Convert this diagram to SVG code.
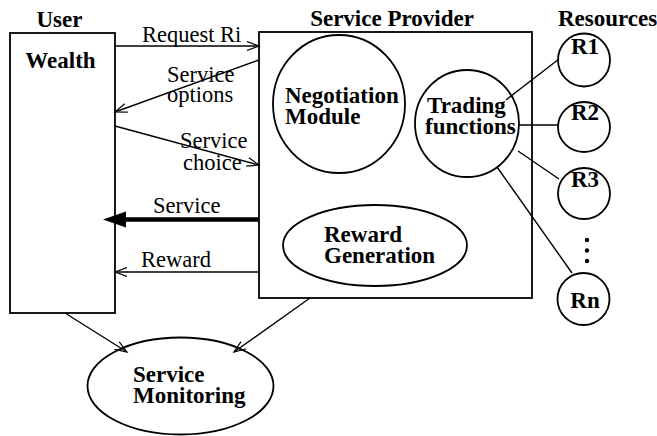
<svg xmlns="http://www.w3.org/2000/svg" width="657" height="436" viewBox="0 0 657 436">
<style>
.b{font-family:"Liberation Serif","Times New Roman",serif;font-weight:bold;font-size:23px;fill:#000}
.r{font-family:"Liberation Serif","Times New Roman",serif;font-size:22.5px;fill:#000}
.s{fill:#fff;stroke:#000;stroke-width:1.8}
.c{stroke:#000;stroke-width:1.4;fill:none}
</style>
<defs>
<marker id="a" markerUnits="userSpaceOnUse" markerWidth="14" markerHeight="12" refX="12" refY="6" orient="auto">
<path d="M0,1.5 L12,6 L0,10.5" fill="none" stroke="#000" stroke-width="1.2"/>
</marker>
</defs>
<rect width="657" height="436" fill="#fff"/>
<g id="user">
<rect class="s" x="10" y="33" width="105" height="280"/>
<text class="b" x="59.5" y="27" text-anchor="middle">User</text>
<text class="b" x="60.5" y="68" text-anchor="middle">Wealth</text>
</g>
<g id="provider">
<rect class="s" x="259" y="32" width="273" height="266"/>
<text class="b" x="392" y="26" text-anchor="middle">Service Provider</text>
</g>
<g id="negotiation">
<ellipse class="s" cx="339" cy="104" rx="66" ry="69"/>
<text class="b" x="285" y="103">Negotiation</text>
<text class="b" x="285" y="124">Module</text>
</g>
<g id="trading">
<ellipse class="s" cx="467" cy="123.5" rx="52" ry="53.5"/>
<text class="b" x="427" y="113">Trading</text>
<text class="b" x="425" y="134">functions</text>
</g>
<g id="reward-gen">
<ellipse class="s" cx="375" cy="245.5" rx="92" ry="40.5"/>
<text class="b" x="324" y="242">Reward</text>
<text class="b" x="324" y="263">Generation</text>
</g>
<g id="monitoring">
<ellipse class="s" cx="180.5" cy="386" rx="93" ry="48.5"/>
<text class="b" x="133" y="382">Service</text>
<text class="b" x="133" y="403">Monitoring</text>
</g>
<g id="resources">
<text class="b" x="607.5" y="26" text-anchor="middle" font-size="22">Resources</text>
</g>
<g id="r1"><ellipse class="s" cx="584" cy="60" rx="26" ry="26.5"/><text class="b" x="585" y="54" text-anchor="middle">R1</text></g>
<g id="r2"><ellipse class="s" cx="584" cy="127" rx="26" ry="25"/><text class="b" x="585" y="120" text-anchor="middle">R2</text></g>
<g id="r3"><ellipse class="s" cx="584" cy="193.5" rx="26" ry="25.5"/><text class="b" x="585" y="187" text-anchor="middle">R3</text></g>
<g id="dots"><circle cx="587" cy="240" r="2.2"/><circle cx="587" cy="250.5" r="2.2"/><circle cx="587" cy="261" r="2.2"/></g>
<g id="rn"><ellipse class="s" cx="583.5" cy="299" rx="26" ry="26"/><text class="b" x="585" y="308" text-anchor="middle">Rn</text></g>
<g id="connectors">
<line class="c" x1="115" y1="46" x2="259" y2="46" marker-end="url(#a)"/>
<line class="c" x1="259" y1="60" x2="115" y2="112" marker-end="url(#a)"/>
<line class="c" x1="115" y1="126" x2="259" y2="165" marker-end="url(#a)"/>
<line x1="259" y1="219.5" x2="122" y2="219.5" stroke="#000" stroke-width="4.5"/>
<polygon points="103,219.5 126,211.5 126,227.5" fill="#000"/>
<line class="c" x1="259" y1="272" x2="115" y2="272" marker-end="url(#a)"/>
<line class="c" x1="65" y1="313" x2="127" y2="352" marker-end="url(#a)"/>
<line class="c" x1="310" y1="298" x2="234" y2="352" marker-end="url(#a)"/>
<line class="c" x1="506" y1="100" x2="559" y2="59"/>
<line class="c" x1="519" y1="125" x2="558" y2="125"/>
<line class="c" x1="518" y1="151" x2="559" y2="179"/>
<line class="c" x1="497" y1="167" x2="572" y2="273"/>
</g>
<g id="labels">
<text class="r" x="142" y="42">Request Ri</text>
<text class="r" x="167" y="82">Service</text>
<text class="r" x="167" y="102">options</text>
<text class="r" x="180" y="148">Service</text>
<text class="r" x="183" y="170">choice</text>
<text class="r" x="153" y="213">Service</text>
<text class="r" x="141" y="267">Reward</text>
</g>
</svg>
